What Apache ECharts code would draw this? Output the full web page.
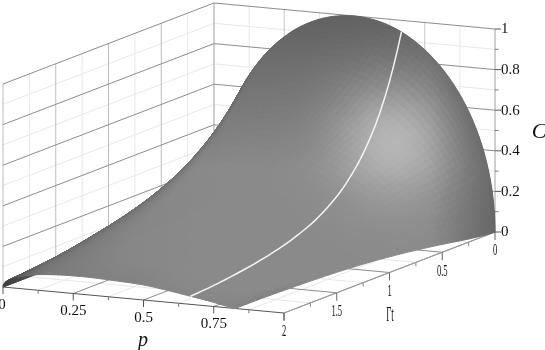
<!DOCTYPE html>
<html><head><meta charset="utf-8">
<style>html,body{margin:0;padding:0;background:#fff}#c{width:545px;height:350px}</style>
<script src="https://cdn.jsdelivr.net/npm/echarts@6/dist/echarts.min.js"></script>
</head><body><div id="c"></div>
<script>
// Data
const pMajor = [0, 0.25, 0.5, 0.75, 1];
const pMinor = [0.125, 0.375, 0.625, 0.875];
const gammaMajor = [0, 0.5, 1, 1.5, 2];
const gammaMinor = [0.25, 0.75, 1.25, 1.75];
const cMajor = [0, 0.2, 0.4, 0.6, 0.8, 1];
const cMinor = [0.1, 0.3, 0.5, 0.7, 0.9];
const pTickLabels = ['0', '0.25', '0.5', '0.75'];
const gammaTickLabels = ['0', '0.5', '1', '1.5', '2'];
const cTickLabels = ['0', '0.2', '0.4', '0.6', '0.8', '1'];
const pValues = [0, .02, .05, .1, .2, .3, .4, .5, .6, .667, .75, .8, .85, .9, .95, .98, 1];
const gammaValues = [0, .1, .2, .35, .5, .75, 1, 1.25, 1.5, 2];
const pCutoff = [1, .992, .974, .94, .911, .875, .853, .84, .832, .826];
const c00 = [0, .28, .436, .6, .8, .917, .98, 1, .98, .943, .866, .8, .714, .6, .436, .28, 0];
const c01 = [0, .25, .386, .527, .691, .78, .821, .823, .788, .744, .661, .593, .507, .395, .239, .093, 0];
const c02 = [0, .224, .343, .464, .601, .67, .694, .684, .64, .592, .507, .439, .355, .248, .1, 0, 0];
const c035 = [0, .19, .289, .387, .493, .54, .549, .527, .478, .428, .344, .28, .202, .104, 0, 0, 0];
const c05 = [0, .162, .245, .326, .409, .441, .441, .415, .364, .316, .238, .179, .107, .019, 0, 0, 0];
const c075 = [0, .125, .19, .25, .307, .323, .316, .289, .243, .2, .134, .084, .025, 0, 0, 0, 0];
const c10 = [0, .1, .15, .197, .236, .244, .233, .209, .17, .135, .08, .04, .002, 0, 0, 0, 0];
const c125 = [0, .08, .12, .155, .182, .186, .176, .155, .123, .095, .051, .019, 0, 0, 0, 0, 0];
const c15 = [0, .062, .092, .12, .14, .143, .134, .117, .091, .069, .034, .009, 0, 0, 0, 0, 0];
const c20 = [0, .037, .055, .072, .085, .087, .082, .074, .055, .04, .02, .006, 0, 0, 0, 0, 0];
const cRows = [c00, c01, c02, c035, c05, c075, c10, c125, c15, c20];

// Oblique view of the box: screen position of (p, Γt, C)
const proj = (p, g, c) => [214 + 281 * p - 105.5 * g, 206 + 26 * p + 40.5 * g - 203 * c];
const toAngle = p => Math.asin(Math.sqrt(p));

function tangents(xs, ys) {
  const n = xs.length, m = new Array(n);
  for (let i = 1; i < n - 1; i++) {
    const h0 = xs[i] - xs[i - 1], h1 = xs[i + 1] - xs[i];
    const d0 = (ys[i] - ys[i - 1]) / h0, d1 = (ys[i + 1] - ys[i]) / h1;
    m[i] = (d0 * h1 + d1 * h0) / (h0 + h1);
  }
  m[0] = 2 * (ys[1] - ys[0]) / (xs[1] - xs[0]) - m[1];
  m[n - 1] = 2 * (ys[n - 1] - ys[n - 2]) / (xs[n - 1] - xs[n - 2]) - m[n - 2];
  return m;
}
function hermite(xs, ys, x) {
  const m = tangents(xs, ys);
  let i = 0;
  while (i < xs.length - 2 && x > xs[i + 1]) i++;
  const h = xs[i + 1] - xs[i], t = (x - xs[i]) / h, t2 = t * t, t3 = t2 * t;
  return (2 * t3 - 3 * t2 + 1) * ys[i] + (t3 - 2 * t2 + t) * h * m[i] + (-2 * t3 + 3 * t2) * ys[i + 1] + (t3 - t2) * h * m[i + 1];
}
const cutAngle = pCutoff.map(toAngle);
const rowKnots = cRows.map((row, i) => {
  const xs = [], ys = [];
  pValues.forEach((p, j) => { if (p < pCutoff[i] - 1e-6) { xs.push(toAngle(p)); ys.push(row[j]); } });
  xs.push(cutAngle[i]); ys.push(0);
  return { xs, ys };
});

// Drawing mesh through the table
const NT = 72, NG = 56, mesh = [];
const gm = [];
for (let a = 0; a <= NG; a++) gm.push(2 * Math.pow(a / NG, 1.6));
const cutAt = gm.map(g => hermite(gammaValues, cutAngle, g));
for (let b = 0; b <= NT; b++) {
  const f = b / NT;
  const rowC = rowKnots.map((k, i) => (b === 0 || b === NT) ? 0 : Math.max(0, hermite(k.xs, k.ys, cutAngle[i] * f)));
  mesh.push(gm.map((g, a) => {
    const sn = Math.sin(cutAt[a] * f);
    return { p: sn * sn, g, c: Math.max(0, hermite(gammaValues, rowC, g)) };
  }));
}
const V = [.4326, .882, .1886];
function shade(a, b) {
  const a1 = Math.min(a + 1, NG), a0 = Math.max(a - 1, 0), b1 = Math.min(b + 1, NT), b0 = Math.max(b - 1, 0);
  const qb1 = mesh[b1][a], qb0 = mesh[b0][a], qa1 = mesh[b][a1], qa0 = mesh[b][a0];
  const dp = (qb1.c - qb0.c) / Math.max(1e-6, qb1.p - qb0.p);
  const dg = (qa1.c - qa0.c) / Math.max(1e-6, qa1.g - qa0.g);
  let nx = -dp * .66, ny = -dg * .863, nz = 1;
  const L = Math.hypot(nx, ny, nz); nx /= L; ny /= L; nz /= L;
  const nv = nx * V[0] + ny * V[1] + nz * V[2];
  const q = mesh[b][a], s = proj(q.p, q.g, q.c);
  const x = s[0], y = s[1];
  const d = Math.hypot(x - 393, y - 135);
  let g = 52 * Math.exp(-(d * d) / (58 * 58));
  g += y < 170 ? 98 + Math.max(0, y - 20) / 150 * 40 : 138;
  if (x > 430) g -= (x - 430) * .55;
  if (x < 200) g -= (200 - x) * .045;
  const rimMin = .48 + .27 * Math.min(1, Math.max(0, x - 6) / 40);
  const rim = rimMin + (1 - rimMin) * Math.min(1, Math.max(0, nv) / .3);
  return g * rim;
}
const cells = [];
for (let a = 0; a < NG; a++) for (let b = 0; b < NT; b++) {
  const P = [mesh[b][a], mesh[b + 1][a], mesh[b + 1][a + 1], mesh[b][a + 1]].map(q => proj(q.p, q.g, q.c));
  const g = Math.round((shade(a, b) + shade(a + 1, b) + shade(a, b + 1) + shade(a + 1, b + 1)) / 4);
  cells.push({ P, color: `rgb(${g},${g},${g})` });
}
const lineP = 0.667, lineCol = cRows.map(r => r[pValues.indexOf(lineP)]);
const whitePts = [];
for (let i = 0; i <= 80; i++) {
  const g = 2 * Math.pow(i / 80, 1.5);
  whitePts.push(proj(lineP, g, hermite(gammaValues, lineCol, g)));
}

// Box lines
const segs = [];
const seg = (a, b, color, w) => segs.push({ a: proj(...a), b: proj(...b), color, w });
const MINOR = '#e8e8e8', DARK = '#8c8c8c';
pMinor.forEach(p => { seg([p, 0, 0], [p, 2, 0], MINOR, 1); seg([p, 0, 0], [p, 0, 1], MINOR, 1); });
gammaMinor.forEach(g => { seg([0, g, 0], [1, g, 0], MINOR, 1); seg([0, g, 0], [0, g, 1], MINOR, 1); });
cMinor.forEach(c => { seg([0, 0, c], [1, 0, c], MINOR, 1); seg([0, 0, c], [0, 2, c], MINOR, 1); });
pMajor.forEach(p => { seg([p, 0, 0], [p, 2, 0], DARK, 1); if (p < 1) seg([p, 0, 0], [p, 0, 1], '#c4c4c4', 1); });
gammaMajor.forEach(g => { seg([0, g, 0], [1, g, 0], g === 2 ? '#555' : DARK, 1); seg([0, g, 0], [0, g, 1], '#bcbcbc', 1); });
cMajor.forEach(c => { seg([0, 0, c], [1, 0, c], DARK, 1); seg([0, 0, c], [0, 2, c], DARK, 1); });
seg([1, 0, 0], [1, 0, 1], '#a0a0a0', 1);
seg([1, 0, 0], [1, 2, 0], '#9a9a9a', 1);

// Ticks
const down = (pt, len, color) => segs.push({ a: pt, b: [pt[0], pt[1] + len], color, w: 1 });
pMajor.forEach(p => down(proj(p, 2, 0), 7, '#555'));
pMinor.forEach(p => down(proj(p, 2, 0), 3.5, '#777'));
gammaMajor.forEach(g => down(proj(1, g, 0), 8, '#666'));
gammaMinor.forEach(g => down(proj(1, g, 0), 4, '#888'));
const right = (pt, len, color) => segs.push({ a: pt, b: [pt[0] + len, pt[1]], color, w: 1 });
cMajor.forEach(c => right(proj(1, 0, c), 6, '#555'));
cMinor.forEach(c => right(proj(1, 0, c), 3.5, '#777'));

// Text
const texts = [];
const FONT = '"Liberation Serif", serif';
pTickLabels.forEach((t, i) => { const s = proj(pMajor[i], 2, 0); texts.push({ t, x: s[0] + (i === 0 ? -1 : 0), y: s[1] + 18, size: 15 }); });
gammaTickLabels.forEach((t, i) => { const s = proj(1, gammaMajor[i], 0); texts.push({ t, x: s[0], y: s[1] + 19, size: 17, sx: .5 }); });
cTickLabels.forEach((t, i) => { const s = proj(1, 0, cMajor[i]); texts.push({ t, x: s[0] + 6, y: s[1] + .5, size: 15, align: 'left' }); });
texts.push({ t: 'p', x: 143, y: 341, size: 20, style: 'italic' });
texts.push({ t: 'Γt', x: 390, y: 315, size: 21, sx: .42 });
texts.push({ t: 'C', x: 539, y: 132, size: 22, style: 'italic' });

const chart = echarts.init(document.getElementById('c'), null, { renderer: 'canvas' });
const idx = a => a.map((_, i) => [i]);
chart.setOption({
  animation: false,
  backgroundColor: '#fff',
  grid: { left: 0, right: 0, top: 0, bottom: 0 },
  xAxis: { type: 'value', min: 0, max: 545, show: false },
  yAxis: { type: 'value', min: 0, max: 350, inverse: true, show: false },
  series: [
    { type: 'custom', silent: true, z: 1, progressive: 0, coordinateSystem: 'cartesian2d', data: idx(segs),
      renderItem: (p, api) => { const s = segs[p.dataIndex], a = api.coord(s.a), b = api.coord(s.b);
        return { type: 'line', shape: { x1: a[0], y1: a[1], x2: b[0], y2: b[1] }, style: { stroke: s.color, lineWidth: s.w } }; } },
    { type: 'custom', silent: true, z: 2, progressive: 0, coordinateSystem: 'cartesian2d', data: idx(cells),
      renderItem: (p, api) => { const s = cells[p.dataIndex];
        return { type: 'polygon', shape: { points: s.P.map(q => api.coord(q)) }, style: { fill: s.color, stroke: s.color, lineWidth: 1 } }; } },
    { type: 'custom', silent: true, z: 3, progressive: 0, coordinateSystem: 'cartesian2d', data: [[0]],
      renderItem: (p, api) => ({ type: 'polyline', shape: { points: whitePts.map(q => api.coord(q)) }, style: { stroke: '#f4f4f4', lineWidth: 1.5, fill: null } }) },
    { type: 'custom', silent: true, z: 4, progressive: 0, coordinateSystem: 'cartesian2d', data: idx(texts),
      renderItem: (p, api) => { const s = texts[p.dataIndex], c = api.coord([s.x, s.y]);
        return { type: 'text', x: c[0], y: c[1], scaleX: s.sx || 1, style: { text: s.t, x: 0, y: 0, align: s.align || 'center', verticalAlign: 'middle', fill: '#111',
          font: `${s.style || 'normal'} ${s.size}px ${FONT}` } }; } }
  ]
});
</script></body></html>
